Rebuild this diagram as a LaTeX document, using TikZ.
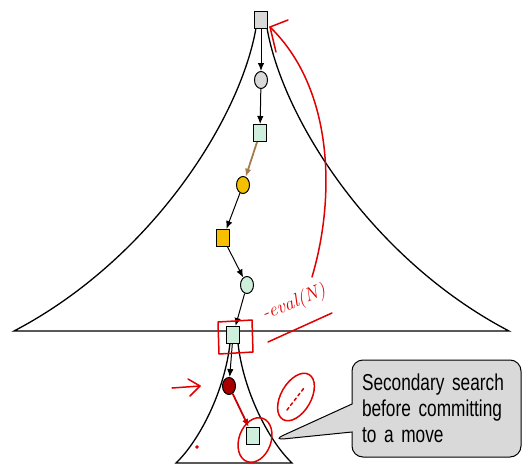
\documentclass[tikz,border=0pt]{standalone}
\usepackage{fontspec}
\newfontfamily\calloutfont[FakeStretch=0.75]{Liberation Sans}
\usetikzlibrary{arrows.meta,shapes.geometric,shapes.callouts}

\definecolor{nodegray}{HTML}{D9D9D9}
\definecolor{mint}{HTML}{CDEFDC}
\definecolor{gold}{HTML}{F5C000}
\definecolor{darkred}{HTML}{A80000}
\definecolor{brownline}{HTML}{A67C4E}
\definecolor{pen}{HTML}{E00000}

\begin{document}
\begin{tikzpicture}[x=1pt, y=-1pt, >={Latex[length=8pt,width=6.5pt]}]
        \tikzset{sq/.style={draw, line width=1pt, rectangle, minimum width=13pt, minimum height=17pt, inner sep=0pt},
                 circ/.style={draw, line width=1pt, ellipse, minimum width=13pt, minimum height=17pt, inner sep=0pt},
                 pen/.style={draw=pen, line width=1.5pt, line cap=round, line join=round}}
        \useasboundingbox (0,0) rectangle (523,466);

        % search trees
        \draw[line width=1.3pt] (256,28) .. controls (240,120) and (150,260) .. (14,331) -- (509,331)
              .. controls (373,260) and (283,120) .. (267,28);
        \draw[line width=1.3pt] (230,343) .. controls (225,390) and (200,440) .. (176,463) -- (292,463)
              .. controls (268,440) and (243,390) .. (238,343);

        % principal variation
        \node[sq, fill=nodegray] (root) at (261,20) {};
        \node[circ, fill=nodegray] (c1) at (261,80) {};
        \node[sq, fill=mint] (s1) at (260,133) {};
        \node[circ, fill=gold] (c2) at (243,185) {};
        \node[sq, fill=gold] (s2) at (223,238) {};
        \node[circ, fill=mint] (c3) at (247,285) {};
        \node[sq, fill=mint] (leaf) at (233,335) {};
        \node[circ, fill=darkred] (c4) at (229,386) {};
        \node[sq, fill=mint] (s3) at (253,436) {};

        \draw[->, line width=1pt] (root) -- (c1);
        \draw[->, line width=1pt] (c1) -- (s1);
        \draw[->, brownline, line width=1.8pt] (s1) -- (c2);
        \draw[->, line width=1pt] (c2) -- (s2);
        \draw[->, line width=1pt] (s2) -- (c3);
        \draw[->, line width=1pt] (c3) -- (leaf);
        \draw[->, line width=1pt] (leaf) -- (c4);
        \draw[->, red!80!black, line width=1.8pt] (c4) -- (s3);

        % callout
        \coordinate (tip) at (273,440);
        \node[rectangle callout, draw, fill=nodegray, line width=1pt, rounded corners=11pt,
              minimum width=169pt, minimum height=97pt, text width=149pt, inner xsep=10pt,
              align=left, callout absolute pointer=(tip), callout pointer width=28pt,
              font=\calloutfont\fontsize{23}{26}\selectfont] (note) at (436.5,408.5)
              {Secondary search\\before committing\\to a move};

        % pen notes
        \coordinate (penstart) at (312,277);
        \draw[pen] (penstart) .. controls (335,200) and (335,90) .. (270,27);
        \draw[pen] (288,20) -- (270,27) -- (276,52);
        \draw[pen] (218,322) -- (252,320) -- (253,352) -- (219,354) -- cycle;
        \node[text=pen, rotate=22, inner sep=0pt, font=\fontsize{19}{19}\selectfont\itshape] (evalnote) at (294,303) {-eval(N)};
        \draw[pen] (268,342) -- (332,313);
        \draw[pen] (172,388) -- (200,386);
        \draw[pen] (188,379) -- (200,386) -- (190,396);
        \draw[pen, rotate around={-20:(255,440)}] (255,440) ellipse [x radius=16, y radius=23];
        \draw[pen, rotate around={-30:(296,397)}] (296,397) ellipse [x radius=15, y radius=26];
        \draw[pen, dashed] (287,410) -- (304,388);
        \fill[pen] (197,447) circle (1);
\end{tikzpicture}
\end{document}
